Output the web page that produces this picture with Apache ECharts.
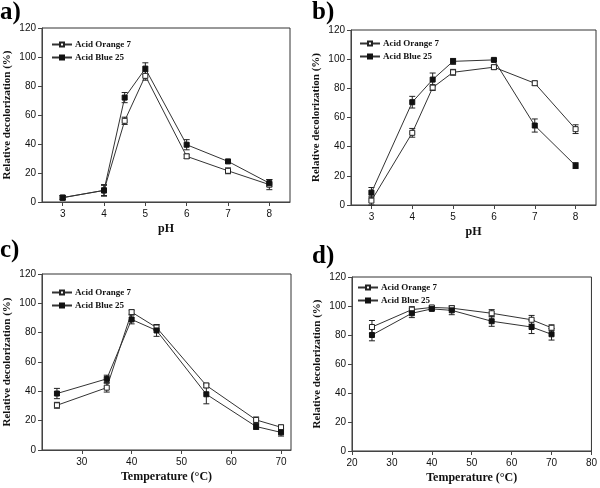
<!DOCTYPE html>
<html>
<head>
<meta charset="utf-8">
<script src="https://cdn.jsdelivr.net/npm/echarts@6/dist/echarts.min.js"></script>
<style>html,body{margin:0;padding:0;background:#fff}#c{width:600px;height:488px}</style>
</head>
<body>
<div id="c"></div>
<script>
// ---- data ----
const phX = [3, 4, 4.5, 5, 6, 7, 8];
const tempX = [25, 35, 40, 45, 55, 65, 70];
const phTicks = [3, 4, 5, 6, 7, 8];
const tempTicksC = [30, 40, 50, 60, 70];

const aOrange = [3, 8, 56, 87, 31.5, 21.5, 12];
const aOrangeErr = [1.5, 3.5, 2.5, 3, 1.5, 2, 3.5];
const aBlue = [3, 8, 72, 92, 39.5, 28, 13];
const aBlueErr = [1.5, 4, 3.5, 4, 3.5, 1, 2.5];

const bOrange = [3, 49.5, 80.5, 91, 94.5, 83.5, 52];
const bOrangeErr = [3, 3, 2, 2, 1.5, 1.5, 3];
const bBlue = [8.5, 70.5, 86, 98.5, 99.5, 54.5, 27];
const bBlueErr = [3.5, 4, 4.5, 2, 1, 4.5, 2];

const cOrange = [30.5, 42.5, 94, 83.5, 44, 20.5, 15.5];
const cOrangeErr = [2, 3, 1.5, 2, 1.5, 2, 1.5];
const cBlue = [38.5, 48.5, 89, 81.5, 38, 16, 12];
const cBlueErr = [3.5, 2.5, 3, 4, 6.5, 2, 2.5];

const dOrange = [85.5, 97.5, 99, 98.5, 95, 90.5, 85];
const dOrangeErr = [4.5, 2, 1, 1.5, 2.5, 3, 2];
const dBlue = [80, 95, 98, 97, 89.5, 85.5, 80.5];
const dBlueErr = [4, 3, 1, 3, 3.5, 4.5, 4];

const nameOrange = 'Acid Orange 7';
const nameBlue = 'Acid Blue 25';

// ---- build ----
const serif = '"Liberation Serif", "Times New Roman", serif';
const sans = '"Liberation Sans", Arial, sans-serif';
const axisColor = '#444';

const panels = [
  {grid: {left: 42, top: 28, width: 248, height: 174}, x: phX, xmin: 2.5, xmax: 8.5, ticks: phTicks, xname: 'pH',
   o: aOrange, oe: aOrangeErr, b: aBlue, be: aBlueErr, legend: {left: 51, top: 40}, label: 'a)', lx: 0, ly: 0},
  {grid: {left: 351, top: 30, width: 245, height: 175}, x: phX, xmin: 2.5, xmax: 8.5, ticks: phTicks, xname: 'pH',
   o: bOrange, oe: bOrangeErr, b: bBlue, be: bBlueErr, legend: {left: 359, top: 39}, label: 'b)', lx: 312, ly: 0},
  {grid: {left: 42, top: 274, width: 249, height: 176}, x: tempX, xmin: 22, xmax: 72, ticks: tempTicksC, xname: 'Temperature (°C)',
   o: cOrange, oe: cOrangeErr, b: cBlue, be: cBlueErr, legend: {left: 51, top: 288}, label: 'c)', lx: 0, ly: 238},
  {grid: {left: 352, top: 277, width: 243, height: 174}, x: tempX, xmin: 20, xmax: 80, ticks: null, xname: 'Temperature (°C)',
   o: dOrange, oe: dOrangeErr, b: dBlue, be: dBlueErr, legend: {left: 357, top: 283}, label: 'd)', lx: 312, ly: 244}
];

const grids = [], xAxes = [], yAxes = [], series = [], legends = [], graphics = [];

function errSeries(i, xs, ys, es) {
  return {
    type: 'custom', xAxisIndex: i, yAxisIndex: i, z: 1, silent: true,
    data: xs.map((x, k) => [x, ys[k] - es[k], ys[k] + es[k]]),
    renderItem: function (params, api) {
      const lo = api.coord([api.value(0), api.value(1)]);
      const hi = api.coord([api.value(0), api.value(2)]);
      const w = 3;
      const st = {stroke: '#222', lineWidth: 1};
      return {type: 'group', children: [
        {type: 'line', shape: {x1: lo[0], y1: lo[1], x2: hi[0], y2: hi[1]}, style: st},
        {type: 'line', shape: {x1: lo[0] - w, y1: lo[1], x2: lo[0] + w, y2: lo[1]}, style: st},
        {type: 'line', shape: {x1: hi[0] - w, y1: hi[1], x2: hi[0] + w, y2: hi[1]}, style: st}
      ]};
    }
  };
}

panels.forEach((p, i) => {
  grids.push(Object.assign({show: true, borderColor: '#333', borderWidth: 1, backgroundColor: 'transparent'}, p.grid));
  const xa = {
    type: 'value', gridIndex: i, min: p.xmin, max: p.xmax,
    name: p.xname, nameLocation: 'middle', nameGap: 21,
    nameTextStyle: {fontFamily: serif, fontWeight: 'bold', fontSize: 12, color: '#111'},
    axisLine: {show: true, lineStyle: {color: axisColor, width: 1}},
    axisTick: {show: true, length: 4, lineStyle: {color: axisColor}},
    axisLabel: {fontFamily: sans, fontSize: 10, color: '#111', margin: 7},
    splitLine: {show: false}
  };
  if (p.ticks) {
    xa.axisTick.customValues = p.ticks;
    xa.axisLabel.customValues = p.ticks;
  } else {
    xa.interval = 10;
  }
  xAxes.push(xa);
  yAxes.push({
    type: 'value', gridIndex: i, min: 0, max: 120, interval: 20,
    name: 'Relative decolorization (%)', nameLocation: 'middle', nameGap: 29,
    nameTextStyle: {fontFamily: serif, fontWeight: 'bold', fontSize: 11, color: '#111'},
    axisLine: {show: true, lineStyle: {color: axisColor, width: 1}},
    axisTick: {show: true, length: 4, lineStyle: {color: axisColor}},
    axisLabel: {fontFamily: sans, fontSize: 10, color: '#111', margin: 6},
    splitLine: {show: false}
  });
  series.push(errSeries(i, p.x, p.o, p.oe));
  series.push(errSeries(i, p.x, p.b, p.be));
  series.push({
    type: 'line', name: nameOrange, xAxisIndex: i, yAxisIndex: i, z: 3,
    data: p.x.map((x, k) => [x, p.o[k]]),
    symbol: 'rect', symbolSize: 5, showSymbol: true,
    lineStyle: {color: '#333', width: 1},
    itemStyle: {color: '#fff', borderColor: '#222', borderWidth: 1},
    emphasis: {disabled: true}
  });
  series.push({
    type: 'line', name: nameBlue, xAxisIndex: i, yAxisIndex: i, z: 3,
    data: p.x.map((x, k) => [x, p.b[k]]),
    symbol: 'rect', symbolSize: 5, showSymbol: true,
    lineStyle: {color: '#333', width: 1},
    itemStyle: {color: '#111', borderColor: '#111', borderWidth: 1},
    emphasis: {disabled: true}
  });
  legends.push({
    data: [nameOrange, nameBlue], orient: 'vertical', left: p.legend.left, top: p.legend.top,
    itemWidth: 20, itemHeight: 5, itemGap: 4, padding: 0, selectedMode: false,
    textStyle: {fontFamily: serif, fontWeight: 'bold', fontSize: 9, color: '#111', padding: [0, 0, 0, -2]}
  });
  graphics.push({
    type: 'text', left: p.lx, top: p.ly,
    style: {text: p.label, font: 'bold 25px ' + serif, fill: '#000'}
  });
});

const chart = echarts.init(document.getElementById('c'), null, {renderer: 'canvas'});
chart.setOption({
  animation: false,
  backgroundColor: '#fff',
  grid: grids, xAxis: xAxes, yAxis: yAxes, series: series, legend: legends, graphic: graphics
});
</script>
</body>
</html>
